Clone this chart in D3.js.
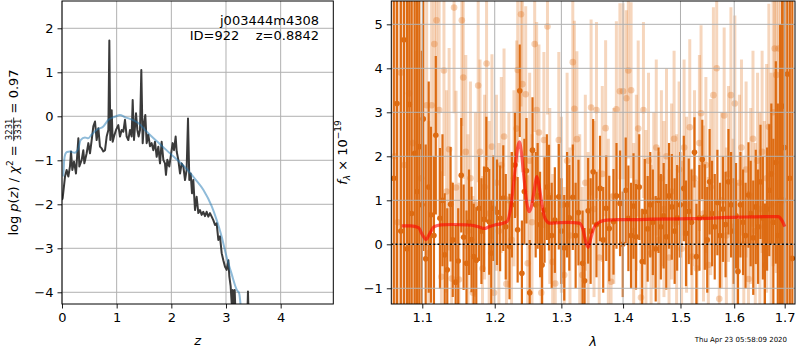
<!DOCTYPE html>
<html>
<head>
<meta charset="utf-8">
<script src="https://cdn.jsdelivr.net/npm/d3@7"></script>
<style>
  body { margin: 0; background: #fff; }
  text { font-family: "DejaVu Sans", sans-serif; }
</style>
</head>
<body>
<div id="chart"></div>
<script>
// ---- p(z) panel data ----
const pzZ = [0.0, 0.012, 0.055, 0.085, 0.116, 0.146, 0.165, 0.189, 0.22, 0.256,
  0.299, 0.317, 0.36, 0.39, 0.409, 0.451, 0.482, 0.512, 0.543, 0.573,
  0.604, 0.634, 0.665, 0.695, 0.726, 0.756, 0.787, 0.817, 0.848, 0.866,
  0.884, 0.909, 0.927, 0.951, 0.988, 1.03, 1.061, 1.091, 1.122, 1.152,
  1.183, 1.213, 1.244, 1.274, 1.293, 1.317, 1.354, 1.378, 1.402, 1.427,
  1.451, 1.476, 1.5, 1.524, 1.549, 1.579, 1.61, 1.64, 1.671, 1.701,
  1.732, 1.762, 1.793, 1.823, 1.854, 1.884, 1.902, 1.927, 1.963, 1.988,
  2.024, 2.049, 2.079, 2.098, 2.128, 2.159, 2.189, 2.22, 2.25, 2.28,
  2.305, 2.329, 2.354, 2.378, 2.402, 2.433, 2.463, 2.494, 2.524, 2.555,
  2.585, 2.616, 2.646, 2.677, 2.707, 2.738, 2.768, 2.799, 2.829, 2.86,
  2.89, 2.921, 2.951, 2.982, 3.012, 3.043, 3.061, 3.085, 3.104, 3.122,
  3.14, 3.159, 3.177, 3.39, 3.402, 3.415, 3.45];
const pzLog = [-1.9, -1.86, -1.37, -1.22, -1.37, -1.14, -0.80, -1.22, -1.03, -1.30,
  -0.50, -1.14, -0.99, -0.77, -1.07, -0.84, -0.61, -0.84, -0.54, -0.23,
  -0.12, -0.54, -0.27, -0.69, -0.73, -0.80, -0.77, -0.46, -0.31, 1.72,
  -0.54, 0.14, -0.58, -0.46, -0.31, -0.20, -0.46, -0.31, -0.35, -0.08,
  -0.46, -0.54, -0.31, -0.46, 0.37, -0.54, 0.07, -0.31, -0.46, -0.31,
  1.05, -0.61, -0.16, 0.03, -0.61, -0.42, -0.68, -0.61, -0.77, -0.58,
  -0.92, -0.69, -1.07, -0.58, -0.99, -1.07, -1.33, -0.99, -1.14, -0.92,
  -0.61, -0.77, -0.46, -0.80, -0.99, -1.30, -1.07, -1.14, -1.45, -1.22,
  -0.05, -1.45, -1.30, -1.75, -1.45, -2.13, -1.83, -2.20, -2.13, -2.24,
  -2.17, -2.27, -2.17, -2.28, -2.20, -2.28, -2.36, -2.47, -2.43, -2.81,
  -2.73, -3.11, -3.27, -3.42, -3.49, -3.27, -3.64, -3.86, -4.25, -3.95,
  -4.33, -3.95, -4.6, -4.6, -3.98, -4.6, -5.0];
const priorZ = [0.024, 0.04, 0.06, 0.09, 0.146, 0.23, 0.30, 0.34, 0.42, 0.48,
  0.54, 0.63, 0.756, 0.85, 0.97, 1.06, 1.15, 1.27, 1.40, 1.52,
  1.64, 1.79, 1.99, 2.16, 2.34, 2.45, 2.585, 2.74, 2.83, 2.92,
  3.01, 3.10, 3.20, 3.24, 3.27];
const priorLog = [-1.37, -1.0, -0.86, -0.81, -0.80, -0.83, -0.73, -0.54, -0.48, -0.50,
  -0.42, -0.31, -0.23, -0.08, -0.01, 0.03, -0.02, -0.07, -0.16, -0.31,
  -0.46, -0.63, -0.86, -1.05, -1.28, -1.45, -1.67, -2.05, -2.36, -2.73,
  -3.19, -3.57, -3.95, -4.02, -4.33];
const zTicks = [0, 1, 2, 3, 4];
const pzTicks = [-4, -3, -2, -1, 0, 1, 2];

// ---- spectrum panel data (flux in 1e-19) ----
const darkWave = [1.063, 1.067, 1.072, 1.076, 1.080, 1.083, 1.086, 1.090, 1.093, 1.096,
  1.0995, 1.1013, 1.1045, 1.1085, 1.1115, 1.1155, 1.118, 1.1236, 1.127, 1.130,
  1.1335, 1.138, 1.141, 1.145, 1.1485, 1.1527, 1.156, 1.160, 1.1635, 1.167,
  1.170, 1.1737, 1.1776, 1.181, 1.1846, 1.188, 1.1921, 1.195, 1.198, 1.2033,
  1.2078, 1.2124, 1.216, 1.2215, 1.225, 1.2295, 1.2335, 1.2366, 1.2398, 1.2435,
  1.2466, 1.2515, 1.2557, 1.2605, 1.2635, 1.2672, 1.2703, 1.274, 1.2775, 1.2808,
  1.285, 1.2899, 1.296, 1.300, 1.3045, 1.309, 1.3125, 1.318, 1.3225, 1.327,
  1.3336, 1.3368, 1.3425, 1.3465, 1.3506, 1.356, 1.3618, 1.367, 1.372, 1.377,
  1.384, 1.389, 1.395, 1.3995, 1.4045, 1.409, 1.4135, 1.4177, 1.422, 1.4275,
  1.4326, 1.437, 1.442, 1.4465, 1.451, 1.456, 1.461, 1.465, 1.470, 1.4746,
  1.4795, 1.4845, 1.4895, 1.494, 1.4995, 1.506, 1.510, 1.515, 1.520, 1.5254,
  1.529, 1.5345, 1.5398, 1.5445, 1.549, 1.5534, 1.558, 1.563, 1.568, 1.573,
  1.5785, 1.5835, 1.589, 1.594, 1.599, 1.6035, 1.6073, 1.612, 1.617, 1.622,
  1.6276, 1.632, 1.637, 1.642, 1.6465, 1.6513, 1.656, 1.6601, 1.6645, 1.6688,
  1.673, 1.677, 1.682, 1.686, 1.6905, 1.6948, 1.6995, 1.7053, 1.7105, 1.7157];
const darkFlux = [1.5, 3.2, 0.3, 4.65, -0.1, 3.18, 0.70, 2.07, 1.2, 2.22,
  0.9, 2.85, -0.33, 1.3, 0.67, 0.2, 2.48, 0.59, 1.0, -0.24,
  -0.58, 0.91, 0.10, -0.86, -0.38, 1.57, 0.16, -0.43, 0.5, 0.11,
  -0.28, -0.36, 0.82, 0.3, 0.57, 1.70, 0.51, -0.2, 0.82, 0.73,
  0.59, 1.05, 0.4, -0.05, 0.9, 1.8, 0.33, 3.49, -0.66, 1.2,
  1.67, -1.1, 2.14, 0.9, 1.1, 0.45, -0.47, 0.78, 1.3, 1.06,
  0.2, 0.55, 1.08, 0.3, -0.08, 0.9, 0.60, 1.07, 0.2, 0.72,
  -0.43, -0.83, 0.76, 0.3, 1.65, 0.45, 1.27, 0.1, 0.82, 0.36,
  0.51, 1.1, 0.93, 0.0, 1.23, 0.59, 0.2, 0.87, 0.17, 1.3,
  -0.39, 0.74, 0.35, 0.9, 0.5, -0.1, 1.0, 0.4, 0.65, 0.17,
  1.1, 0.85, 0.3, 0.6, 0.9, 1.27, 0.25, 0.75, 0.5, 2.09,
  -0.28, 0.6, 1.93, 0.62, 0.1, 1.42, 0.7, 0.4, 0.95, 0.2,
  0.8, 0.45, 1.42, 0.9, 0.3, 0.65, -0.62, 0.9, 0.5, 0.2,
  1.12, 0.7, 0.15, 0.85, 0.4, 1.42, 0.6, -0.47, 0.8, 1.23,
  1.6, 0.5, 1.86, 0.2, 1.0, 3.14, 2.2, 3.87, 1.5, -0.32];
const darkErr = [7, 7, 6.5, 6.5, 6, 6, 5.5, 5, 4.5, 4,
  3.5, 3, 2.6, 2.4, 2.0, 1.8, 1.8, 1.6, 1.5, 1.4,
  1.4, 1.3, 1.3, 1.3, 1.2, 1.3, 1.2, 1.2, 1.2, 1.2,
  1.2, 1.2, 1.2, 1.2, 1.2, 1.2, 1.2, 1.2, 1.2, 1.2,
  1.2, 1.2, 1.2, 1.2, 1.2, 1.2, 1.2, 1.05, 1.2, 1.2,
  1.2, 1.2, 1.2, 1.2, 1.2, 1.2, 1.2, 1.2, 1.2, 1.2,
  1.2, 1.2, 1.2, 1.2, 1.2, 1.2, 1.2, 1.2, 1.2, 1.2,
  1.2, 1.2, 1.2, 1.2, 1.2, 1.2, 1.2, 1.2, 1.2, 1.2,
  1.2, 1.2, 1.2, 1.2, 1.2, 1.2, 1.2, 1.2, 1.2, 1.2,
  1.2, 1.2, 1.2, 1.2, 1.2, 1.2, 1.2, 1.2, 1.2, 1.2,
  1.2, 1.2, 1.2, 1.2, 1.2, 1.2, 1.2, 1.2, 1.2, 0.8,
  1.2, 1.2, 0.9, 1.2, 1.2, 1.2, 1.2, 1.2, 1.2, 1.2,
  1.2, 1.2, 1.2, 1.2, 1.2, 1.2, 1.2, 1.2, 1.2, 1.2,
  1.2, 1.2, 1.3, 1.3, 1.3, 1.3, 1.4, 1.4, 1.4, 1.5,
  1.6, 1.9, 2.3, 3, 4, 4.5, 5, 6, 7, 8];

const lightWave = [1.064, 1.068, 1.072, 1.0765, 1.0826, 1.0875, 1.0925, 1.0985, 1.1058, 1.1085,
  1.1124, 1.116, 1.119, 1.1225, 1.1255, 1.129, 1.1325, 1.136, 1.1395, 1.1428,
  1.1455, 1.1495, 1.1535, 1.1555, 1.159, 1.162, 1.1655, 1.169, 1.1725, 1.1764,
  1.179, 1.1825, 1.1855, 1.1883, 1.192, 1.196, 1.199, 1.2025, 1.206, 1.2095,
  1.2135, 1.217, 1.2205, 1.2245, 1.228, 1.232, 1.2336, 1.2385, 1.2405, 1.2455,
  1.2485, 1.2515, 1.255, 1.259, 1.262, 1.2655, 1.269, 1.273, 1.2785, 1.282,
  1.2865, 1.2905, 1.296, 1.300, 1.3045, 1.309, 1.3135, 1.318, 1.3205, 1.3245,
  1.329, 1.333, 1.338, 1.3425, 1.3473, 1.352, 1.356, 1.3605, 1.3655, 1.371,
  1.3755, 1.380, 1.3845, 1.3888, 1.3947, 1.400, 1.4055, 1.4089, 1.4136, 1.418,
  1.4225, 1.4257, 1.4305, 1.4347, 1.439, 1.4435, 1.448, 1.4525, 1.457, 1.4615,
  1.466, 1.4705, 1.475, 1.4795, 1.484, 1.4885, 1.493, 1.4975, 1.502, 1.5065,
  1.511, 1.5168, 1.521, 1.5255, 1.530, 1.5345, 1.5375, 1.542, 1.5465, 1.551,
  1.5555, 1.5605, 1.5667, 1.5715, 1.576, 1.5808, 1.585, 1.589, 1.5937, 1.598,
  1.6012, 1.6055, 1.610, 1.614, 1.6185, 1.623, 1.6276, 1.632, 1.6365, 1.641,
  1.6455, 1.650, 1.6545, 1.659, 1.6635, 1.668, 1.6725, 1.6765, 1.6798, 1.683,
  1.6875, 1.692, 1.6965];
const lightFlux = [2.0, 0.5, 3.9, 1.8, 3.43, 2.3, 0.4, 1.5, 3.16, -0.2,
  3.16, 4.55, 5.09, 3.05, -0.74, 3.95, 1.2, 2.16, -0.78, 5.38,
  1.29, -0.8, 5.09, 3.79, 2.1, 0.3, 1.5, -1.1, 0.9, 3.61,
  2.1, -0.55, 1.3, 4.11, 0.7, 2.22, -1.1, 1.4, 0.3, 1.8,
  2.45, -0.9, 1.0, 0.1, 1.5, 2.63, 3.96, 5.23, 3.64, 3.41,
  -0.43, 1.9, 0.5, 4.55, 3.05, 2.54, -1.1, 2.37, 4.95, 1.1,
  -0.4, -0.89, 2.37, 0.9, -0.7, 1.9, 0.2, 4.14, 3.08, 2.39,
  0.5, -0.7, 1.4, 0.1, 3.11, 0.8, 3.05, -0.3, 1.6, 2.64,
  0.4, -0.85, 1.1, 3.07, 3.48, 3.48, 3.32, 3.95, 3.50, 0.3,
  1.4, 2.63, -1.21, 3.05, 0.6, 1.9, -0.2, 1.0, 2.2, 0.1,
  1.5, 0.8, 2.0, -0.3, 1.2, 2.4, 0.5, 1.7, -0.1, 2.2,
  0.9, 2.66, -0.28, 1.5, -0.55, 2.3, 2.98, 0.7, 1.8, -0.47,
  1.3, 3.39, 4.0, -1.24, 1.0, 2.93, 0.2, 1.6, 3.39, 0.4,
  3.2, -0.6, 1.4, 2.2, 0.0, 1.7, -0.79, 1.1, 2.4, 0.3,
  1.9, 0.8, 2.1, 0.4, 1.5, 2.67, 0.9, 3.0, 4.45, 3.85,
  4.45, 2.0, 1.0];
const lightErr = [7, 6.5, 6, 5.5, 5, 4.5, 4, 3.5, 3.2, 3,
  2.8, 2.6, 2.6, 2.5, 2.4, 2.4, 2.3, 2.3, 2.2, 2.4,
  2.2, 2.2, 2.4, 2.3, 2.2, 2.2, 2.2, 2.2, 2.1, 2.2,
  2.1, 2.1, 2.1, 2.2, 2.1, 2.1, 2.0, 2.0, 2.0, 2.0,
  2.0, 2.0, 2.0, 2.0, 2.0, 2.0, 2.1, 2.1, 2.0, 2.0,
  2.0, 2.0, 2.0, 2.0, 2.0, 2.0, 2.0, 2.0, 2.0, 2.0,
  2.0, 2.0, 2.0, 2.0, 2.0, 2.0, 2.0, 2.0, 2.0, 2.0,
  2.0, 2.0, 2.0, 2.0, 2.0, 2.0, 2.0, 2.0, 2.0, 2.0,
  2.0, 2.0, 2.0, 2.0, 2.0, 2.0, 2.0, 2.0, 2.0, 2.0,
  2.0, 2.0, 2.0, 2.0, 2.0, 2.0, 2.0, 2.0, 2.0, 2.0,
  2.0, 2.0, 2.0, 2.0, 2.0, 2.0, 2.0, 2.0, 2.0, 2.0,
  2.0, 2.0, 2.0, 2.0, 2.0, 2.0, 2.0, 2.0, 2.0, 2.0,
  2.0, 2.0, 2.0, 2.0, 2.0, 2.0, 2.0, 2.0, 2.0, 2.0,
  2.0, 2.0, 2.0, 2.0, 2.0, 2.0, 2.0, 2.0, 2.0, 2.0,
  2.0, 2.2, 2.3, 2.4, 2.6, 2.8, 3.0, 3.5, 4, 4.5,
  5, 6, 7];

const modelWave = [1.0731, 1.085, 1.095, 1.100, 1.105, 1.110, 1.116, 1.125, 1.140, 1.160,
  1.172, 1.180, 1.185, 1.192, 1.200, 1.210, 1.218, 1.224, 1.229, 1.2335,
  1.236, 1.239, 1.243, 1.247, 1.2505, 1.254, 1.258, 1.2625, 1.266, 1.270,
  1.275, 1.282, 1.295, 1.310, 1.328, 1.334, 1.338, 1.3425, 1.347, 1.352,
  1.360, 1.372, 1.390, 1.420, 1.450, 1.500, 1.550, 1.5855, 1.620, 1.660,
  1.687, 1.694, 1.7003];
const modelFlux = [0.42, 0.42, 0.38, 0.22, 0.11, 0.25, 0.40, 0.44, 0.45, 0.44,
  0.42, 0.38, 0.36, 0.40, 0.44, 0.47, 0.52, 0.9, 1.6, 2.2,
  2.33, 2.1, 1.5, 0.95, 0.74, 0.85, 1.2, 1.54, 1.3, 0.9,
  0.58, 0.48, 0.49, 0.50, 0.48, 0.35, 0.1, -0.07, 0.15, 0.38,
  0.50, 0.55, 0.56, 0.56, 0.57, 0.58, 0.59, 0.61, 0.62, 0.63,
  0.63, 0.55, 0.40];
const waveTicks = [1.1, 1.2, 1.3, 1.4, 1.5, 1.6, 1.7];
const fluxTicks = [-1, 0, 1, 2, 3, 4, 5];

const orange = "#dd6b12";
const gridCol = "#b0b0b0";

const svg = d3.select("#chart").append("svg")
  .attr("width", 800)
  .attr("height", 350);

// ================= left: p(z) =================
const L = {left: 62, right: 333.3, top: 1, bottom: 304};
const xL = d3.scaleLinear().domain([0, 4.963]).range([L.left, L.right]);
const yL = d3.scaleLinear().domain([2.62, -4.266]).range([L.top, L.bottom]);

svg.append("clipPath").attr("id", "clipL")
  .append("rect").attr("x", L.left).attr("y", L.top)
  .attr("width", L.right - L.left).attr("height", L.bottom - L.top);

const gL = svg.append("g");
gL.selectAll(".gx").data(zTicks).join("line")
  .attr("x1", d => xL(d)).attr("x2", d => xL(d))
  .attr("y1", L.top).attr("y2", L.bottom)
  .attr("stroke", gridCol).attr("stroke-width", 1);
gL.selectAll(".gy").data(pzTicks).join("line")
  .attr("x1", L.left).attr("x2", L.right)
  .attr("y1", d => yL(d)).attr("y2", d => yL(d))
  .attr("stroke", gridCol).attr("stroke-width", 1);

const pzLine = d3.line().x(d => xL(d[0])).y(d => yL(d[1]));
const plot = svg.append("g").attr("clip-path", "url(#clipL)");
plot.append("path")
  .attr("d", pzLine(pzZ.map((z, i) => [z, pzLog[i]])))
  .attr("fill", "none").attr("stroke", "#3a3a3a")
  .attr("stroke-width", 2).attr("stroke-linejoin", "round");
plot.append("path")
  .attr("d", d3.line().curve(d3.curveMonotoneX).x(d => xL(d[0])).y(d => yL(d[1]))(priorZ.map((z, i) => [z, priorLog[i]])))
  .attr("fill", "none").attr("stroke", "#1f77b4").attr("stroke-opacity", 0.5)
  .attr("stroke-width", 2);

svg.append("text").attr("x", 319).attr("y", 25).attr("text-anchor", "end")
  .attr("font-size", 13).text("j003444m4308");
svg.append("text").attr("x", 319).attr("y", 40).attr("text-anchor", "end")
  .attr("font-size", 13).attr("xml:space", "preserve").text("ID=922    z=0.8842");

function styleAxis(g) {
  g.select(".domain").remove();
  g.selectAll(".tick line").attr("stroke", "#000").attr("stroke-width", 0.9);
  g.selectAll(".tick text").attr("font-size", 13).attr("fill", "#000")
    .attr("font-family", "DejaVu Sans");
}

svg.append("g").attr("transform", `translate(0,${L.bottom})`)
  .call(d3.axisBottom(xL).tickValues(zTicks).tickSize(4.5).tickPadding(4).tickFormat(d3.format("d")))
  .call(styleAxis);
svg.append("g").attr("transform", `translate(${L.left},0)`)
  .call(d3.axisLeft(yL).tickValues(pzTicks).tickSize(4.5).tickPadding(4).tickFormat(d3.format("d")))
  .call(styleAxis);

svg.append("rect").attr("x", L.left).attr("y", L.top)
  .attr("width", L.right - L.left).attr("height", L.bottom - L.top)
  .attr("fill", "none").attr("stroke", "#000").attr("stroke-width", 1);

svg.append("text").attr("x", (L.left + L.right) / 2).attr("y", 345)
  .attr("text-anchor", "middle").attr("font-size", 13).attr("font-style", "italic").text("z");

// y label with stacked fraction
const lab = svg.append("g").attr("transform", `translate(18,${(L.top + L.bottom) / 2}) rotate(-90)`);
const inner = lab.append("g");
const t1 = inner.append("text").attr("x", 0).attr("y", 0).attr("font-size", 13).attr("xml:space", "preserve");
t1.append("tspan").text("log ");
t1.append("tspan").attr("font-style", "italic").text("p");
t1.append("tspan").text("(");
t1.append("tspan").attr("font-style", "italic").text("z");
t1.append("tspan").text(") / ");
t1.append("tspan").attr("font-style", "italic").text("χ");
t1.append("tspan").attr("font-size", 9).attr("dy", -5).text("2");
t1.append("tspan").attr("dy", 5).text(" = ");
const w1 = t1.node().getComputedTextLength();
const num = inner.append("text").attr("font-size", 8.5).attr("text-anchor", "middle").text("3231");
const fw = num.node().getComputedTextLength() + 2;
num.attr("x", w1 + fw / 2).attr("y", -6);
inner.append("text").attr("font-size", 8.5).attr("text-anchor", "middle")
  .attr("x", w1 + fw / 2).attr("y", 3).text("3331");
inner.append("line").attr("x1", w1).attr("x2", w1 + fw).attr("y1", -4.3).attr("y2", -4.3)
  .attr("stroke", "#000").attr("stroke-width", 0.8);
const t2 = inner.append("text").attr("x", w1 + fw).attr("y", 0).attr("font-size", 13)
  .attr("xml:space", "preserve").text(" = 0.97");
const wTot = w1 + fw + t2.node().getComputedTextLength();
inner.attr("transform", `translate(${-wTot / 2},0)`);

// ================= right: spectrum =================
const R = {left: 391.3, right: 795, top: 1, bottom: 304};
const xR = d3.scaleLog().domain([1.0598, 1.7212]).range([R.left, R.right]);
const yR = d3.scaleLinear().domain([5.53, -1.357]).range([R.top, R.bottom]);

svg.append("clipPath").attr("id", "clipR")
  .append("rect").attr("x", R.left).attr("y", R.top)
  .attr("width", R.right - R.left).attr("height", R.bottom - R.top);

const spec = svg.append("g").attr("clip-path", "url(#clipR)");

const light = lightWave.map((w, i) => ({w: w, f: lightFlux[i], e: lightErr[i]}));
const dark = darkWave.map((w, i) => ({w: w, f: darkFlux[i], e: darkErr[i]}));

spec.selectAll(".lbar").data(light).join("line")
  .attr("x1", d => xR(d.w)).attr("x2", d => xR(d.w))
  .attr("y1", d => yR(d.f - d.e)).attr("y2", d => yR(d.f + d.e))
  .attr("stroke", orange).attr("stroke-opacity", 0.28).attr("stroke-width", 3);
spec.selectAll(".ldot").data(light).join("circle")
  .attr("cx", d => xR(d.w)).attr("cy", d => yR(d.f)).attr("r", 3.3)
  .attr("fill", orange).attr("fill-opacity", 0.3);

spec.selectAll(".dbar").data(dark).join("line")
  .attr("x1", d => xR(d.w)).attr("x2", d => xR(d.w))
  .attr("y1", d => yR(d.f - d.e)).attr("y2", d => yR(d.f + d.e))
  .attr("stroke", orange).attr("stroke-width", 2.2);
spec.selectAll(".ddot").data(dark).join("circle")
  .attr("cx", d => xR(d.w)).attr("cy", d => yR(d.f)).attr("r", 2.8)
  .attr("fill", orange);

// grid over the bars
spec.selectAll(".rgx").data(waveTicks).join("line")
  .attr("x1", d => xR(d)).attr("x2", d => xR(d))
  .attr("y1", R.top).attr("y2", R.bottom)
  .attr("stroke", gridCol).attr("stroke-width", 1);
spec.selectAll(".rgy").data(fluxTicks).join("line")
  .attr("x1", R.left).attr("x2", R.right)
  .attr("y1", d => yR(d)).attr("y2", d => yR(d))
  .attr("stroke", gridCol).attr("stroke-width", 1);

spec.append("line").attr("x1", R.left).attr("x2", R.right)
  .attr("y1", yR(0)).attr("y2", yR(0))
  .attr("stroke", "#000").attr("stroke-width", 1.6).attr("stroke-dasharray", "2,2.2");

spec.append("path")
  .attr("d", d3.line().curve(d3.curveMonotoneX).x(d => xR(d[0])).y(d => yR(d[1]))(modelWave.map((w, i) => [w, modelFlux[i]])))
  .attr("fill", "none").attr("stroke", "red").attr("stroke-opacity", 0.6)
  .attr("stroke-width", 3.2).attr("stroke-linejoin", "round");

svg.append("g").attr("transform", `translate(0,${R.bottom})`)
  .call(d3.axisBottom(xR).tickValues(waveTicks).tickSize(4.5).tickPadding(4).tickFormat(d3.format(".1f")))
  .call(styleAxis);
svg.append("g").attr("transform", `translate(${R.left},0)`)
  .call(d3.axisLeft(yR).tickValues(fluxTicks).tickSize(4.5).tickPadding(4).tickFormat(d3.format("d")))
  .call(styleAxis);

svg.append("rect").attr("x", R.left).attr("y", R.top)
  .attr("width", R.right - R.left).attr("height", R.bottom - R.top)
  .attr("fill", "none").attr("stroke", "#000").attr("stroke-width", 1);

svg.append("text").attr("x", (R.left + R.right) / 2).attr("y", 346)
  .attr("text-anchor", "middle").attr("font-size", 13).attr("font-style", "italic").text("λ");

const ylab = svg.append("text")
  .attr("transform", `translate(347,${(R.top + R.bottom) / 2}) rotate(-90)`)
  .attr("text-anchor", "middle").attr("font-size", 13);
ylab.append("tspan").attr("font-style", "italic").text("f");
ylab.append("tspan").attr("font-style", "italic").attr("font-size", 9).attr("dy", 3).text("λ");
ylab.append("tspan").attr("dy", -3).text(" × 10");
ylab.append("tspan").attr("font-size", 9).attr("dy", -6).text("−19");

svg.append("text").attr("x", 787).attr("y", 342).attr("text-anchor", "end")
  .attr("font-size", 7).text("Thu Apr 23 05:58:09 2020");
</script>
</body>
</html>
